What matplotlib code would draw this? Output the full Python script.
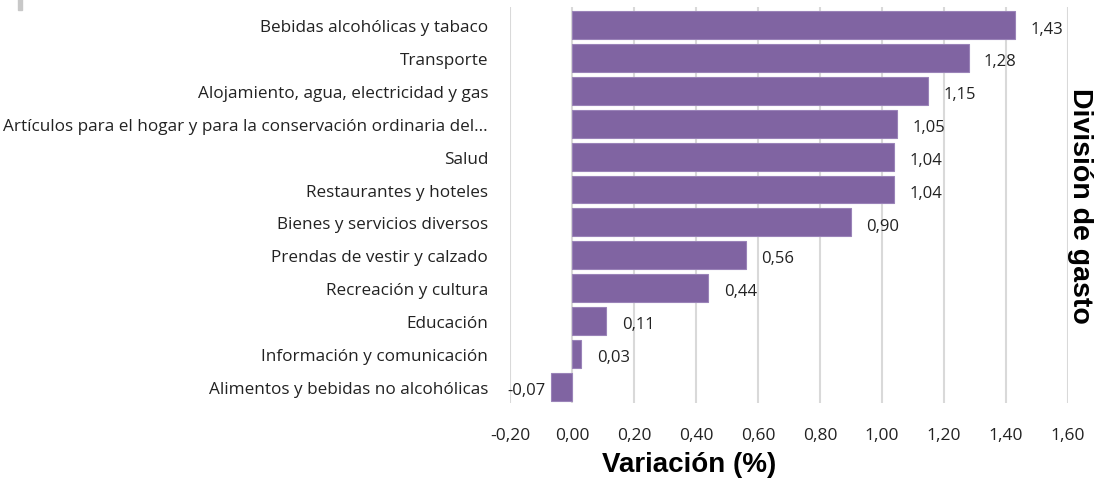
import matplotlib
matplotlib.use("Agg")
import matplotlib.pyplot as plt
from matplotlib.patches import Rectangle

categorias = [
    "Bebidas alcohólicas y tabaco",
    "Transporte",
    "Alojamiento, agua, electricidad y gas",
    "Artículos para el hogar y para la conservación ordinaria del...",
    "Salud",
    "Restaurantes y hoteles",
    "Bienes y servicios diversos",
    "Prendas de vestir y calzado",
    "Recreación y cultura",
    "Educación",
    "Información y comunicación",
    "Alimentos y bebidas no alcohólicas",
]
variacion = [1.43, 1.28, 1.15, 1.05, 1.04, 1.04, 0.90, 0.56, 0.44, 0.11, 0.03, -0.07]
ticks_x = [-0.2, 0.0, 0.2, 0.4, 0.6, 0.8, 1.0, 1.2, 1.4, 1.6]

plt.rcParams["font.family"] = ["Open Sans", "DejaVu Sans"]

fig = plt.figure(figsize=(10.95, 4.81), dpi=100)
ax = fig.add_axes([0.466, 0.16, 0.509, 0.823])

pos = list(range(len(categorias)))
ax.barh(pos, variacion, height=0.85, color="#8064A2", edgecolor="#9A83B8", lw=0.8, zorder=3)

for y, v in zip(pos, variacion):
    txt = f"{v:.2f}".replace(".", ",")
    if v >= 0:
        ax.text(v + 0.05, y + 0.1, txt, ha="left", va="center", fontsize=12, color="#222222")
    else:
        ax.text(v - 0.015, y + 0.1, txt, ha="right", va="center", fontsize=12, color="#222222")

ax.set_xlim(-0.2, 1.6)
ax.set_ylim(11.5, -0.55)
ax.set_xticks(ticks_x)
ax.set_xticklabels([f"{t:.2f}".replace(".", ",") for t in ticks_x], fontsize=12.5)
ax.set_yticks(pos)
ax.set_yticklabels(categorias, fontsize=12.3)
ax.tick_params(axis="both", length=0, colors="#222222")
ax.tick_params(axis="y", pad=16)
ax.tick_params(axis="x", pad=17)
ax.grid(axis="x", color="#D9D9D9", lw=1.5, zorder=0)
for s in ax.spines.values():
    s.set_visible(False)

fig.text(0.629, 0.033, "Variación (%)", ha="center", va="center", fontsize=20,
         fontweight="bold", family="Liberation Sans")
fig.text(0.986, 0.572, "División de gasto", ha="center", va="center", fontsize=20.5,
         fontweight="bold", rotation=-90, family="Liberation Sans")

# small gray marker in the top-left corner
fig.patches.append(Rectangle((0.0165, 0.978), 0.004, 0.022, transform=fig.transFigure,
                             color="#C8C8C8", figure=fig))

fig.savefig("out.png", dpi=100)
